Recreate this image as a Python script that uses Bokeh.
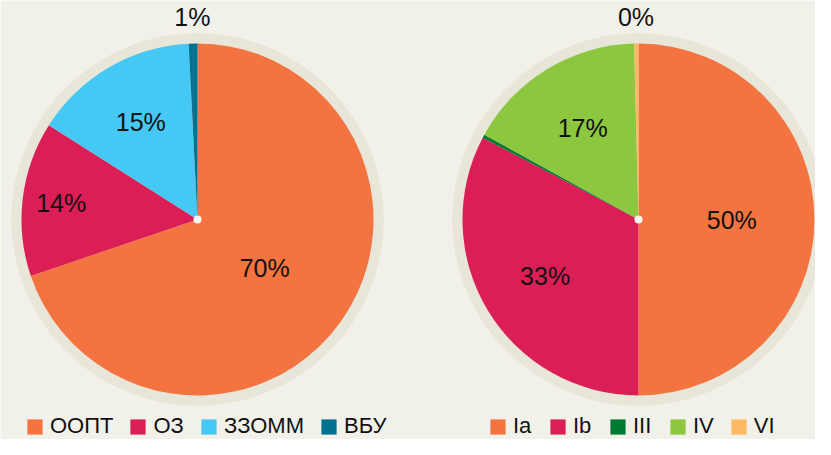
import numpy as np
from bokeh.plotting import figure
from bokeh.models import Range1d, ColumnDataSource, Legend, LegendItem
from bokeh.core.properties import value
from bokeh.embed import file_html
from bokeh.resources import INLINE

# ---- data ----
left_categories = ["ООПТ", "ОЗ", "ЗЗОММ", "ВБУ"]
left_values = [69.8, 14.2, 15.2, 0.8]
left_colors = ["#f37441", "#db1f56", "#46c8f5", "#00718f"]

right_categories = ["Ia", "Ib", "III", "IV", "VI"]
right_values = [50.0, 32.7, 0.3, 16.6, 0.4]
right_colors = ["#f37441", "#db1f56", "#007a33", "#8dc63f", "#fdb863"]

# ---- style / layout ----
W, H = 815, 439
RPX = 176.0                      # pie radius in px (1 data unit)
CX_PX = [197, 638]               # pie centres (canvas px from left)
CY_PX = 219                      # pie centre (canvas px from top)
left_label_r = [0.47, 0.78, 0.64, 1.15]
right_label_r = [0.53, 0.62, 0.0, 0.61, 1.15]
right_show = [True, True, False, True, True]
BG = "#f2f1e9"
RING = "#e8e6d8"
FONT = "Liberation Sans"

x0 = -CX_PX[0] / RPX
y0 = -(H - CY_PX) / RPX
p = figure(width=W, height=H, x_range=Range1d(x0, x0 + W / RPX),
           y_range=Range1d(y0, y0 + H / RPX), output_backend="svg",
           toolbar_location=None, min_border=0)
p.axis.visible = False
p.grid.visible = False
p.outline_line_color = None
p.background_fill_color = BG
p.border_fill_color = BG


def draw_pie(cx, cats, vals, cols, label_r, show):
    vals = np.array(vals, dtype=float)
    frac = vals / vals.sum()
    cum = np.concatenate([[0], np.cumsum(frac)])
    start = np.pi / 2 - cum[:-1] * 2 * np.pi
    end = np.pi / 2 - cum[1:] * 2 * np.pi
    mid = (start + end) / 2
    p.circle(x=[cx], y=[0], radius=1.058, fill_color=RING, line_color=None)
    src = ColumnDataSource(dict(cat=cats, start=start, end=end, color=cols))
    r = p.wedge(x=cx, y=0, radius=1.0, start_angle="start", end_angle="end",
                direction="clock", fill_color="color", line_color=None, source=src)
    p.circle(x=[cx], y=[0], radius=4 / RPX, fill_color="#f7f6ef", line_color=None)
    lr = np.array(label_r)
    labels = [f"{int(round(v))}%" if s else "" for v, s in zip(vals, show)]
    tx = cx + lr * np.cos(mid)
    ty = lr * np.sin(mid)
    p.text(x=tx, y=ty, text=labels, text_align="center", text_baseline="middle",
           text_font=value(FONT), text_font_size="25px", text_color="#111111")
    items = [LegendItem(label=c, renderers=[r], index=i) for i, c in enumerate(cats)]
    return items


li = draw_pie(0.0, left_categories, left_values, left_colors, left_label_r,
              [True] * len(left_values))
ri = draw_pie((CX_PX[1] - CX_PX[0]) / RPX, right_categories, right_values,
              right_colors, right_label_r, right_show)

for items, loc in [(li, (25, 0)), (ri, (488, 0))]:
    lg = Legend(items=items, orientation="horizontal", location=loc,
                background_fill_alpha=0, border_line_alpha=0, padding=0, margin=0,
                glyph_width=19, glyph_height=19, label_standoff=6, spacing=15,
                label_text_font=FONT, label_text_font_size="22px",
                label_text_color="#111111", label_height=19)
    p.add_layout(lg, "center")

open("out.html", "w").write(file_html(p, INLINE))
